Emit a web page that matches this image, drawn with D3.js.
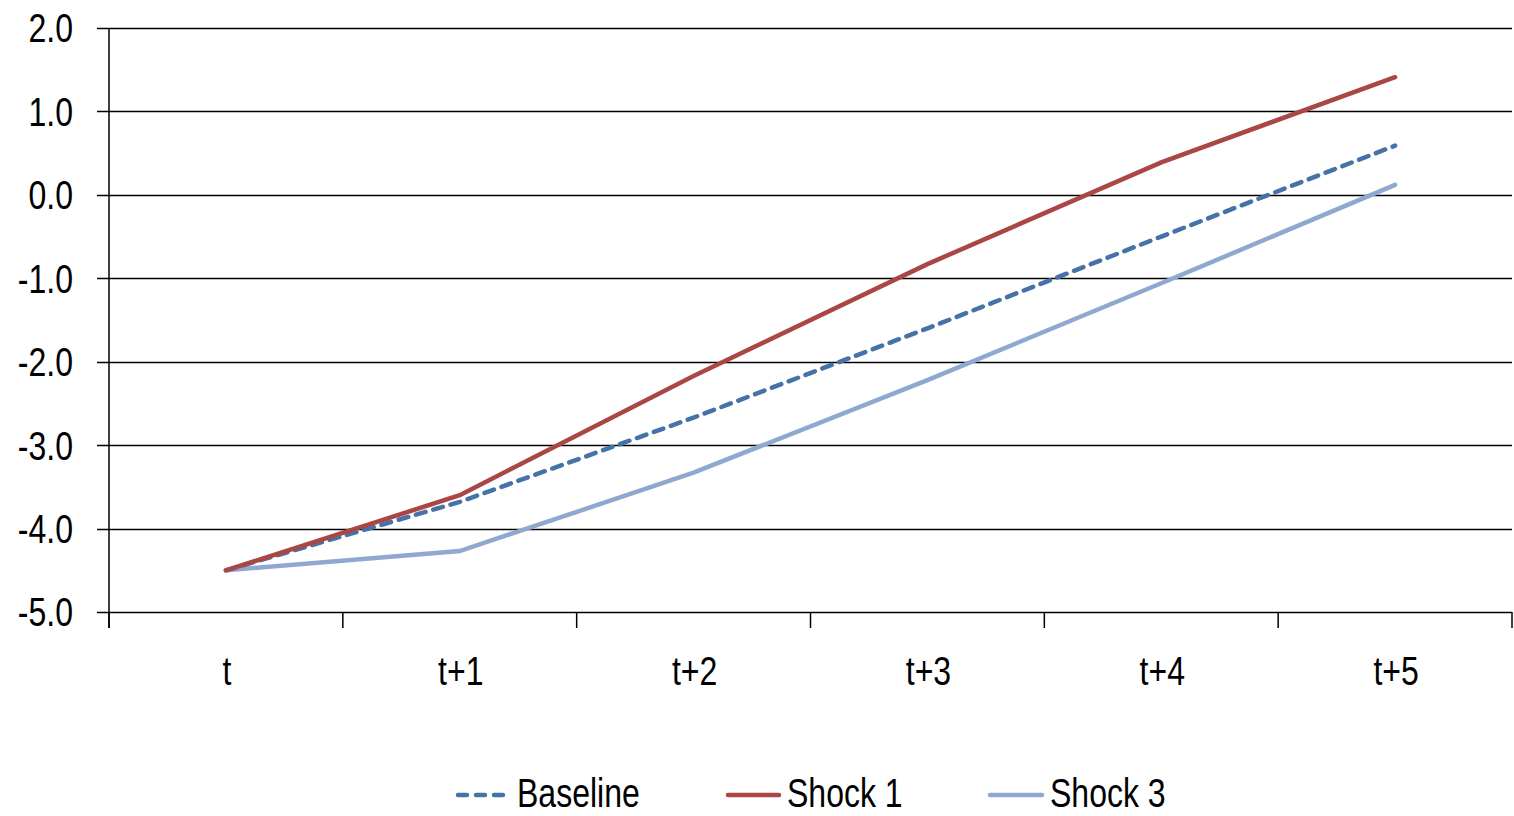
<!DOCTYPE html>
<meta charset="utf-8">
<script src="https://d3js.org/d3.v7.min.js"></script>
<style>
  body { margin: 0; background: #fff; }
  text { font-family: "Liberation Sans", Arial, sans-serif; }
</style>
<svg id="chart" width="1514" height="816"></svg>
<script>
// data
const periods = ["t", "t+1", "t+2", "t+3", "t+4", "t+5"];
const baseline = [-4.5, -3.68, -2.67, -1.6, -0.5, 0.59];
const shock1 = [-4.5, -3.6, -2.17, -0.83, 0.39, 1.41];
const shock3 = [-4.5, -4.27, -3.33, -2.22, -1.06, 0.12];
const yTicks = [2, 1, 0, -1, -2, -3, -4, -5];

const svg = d3.select("#chart");
const plotLeft = 109, plotRight = 1512, plotTop = 28, plotBottom = 612;
const squeeze = 0.8; // fake a narrow font

const x = d3.scaleBand().domain(periods).range([plotLeft, plotRight]);
const y = d3.scaleLinear().domain([-5, 2]).range([plotBottom, plotTop]);

// gridlines
svg.append("g")
  .selectAll("line")
  .data(yTicks)
  .join("line")
  .attr("x1", plotLeft - 12)
  .attr("x2", plotRight)
  .attr("y1", d => Math.round(y(d)) + 0.5)
  .attr("y2", d => Math.round(y(d)) + 0.5)
  .attr("stroke", "#000")
  .attr("stroke-width", 1.5);

// y axis line
svg.append("line")
  .attr("x1", plotLeft).attr("x2", plotLeft)
  .attr("y1", plotTop).attr("y2", plotBottom + 16)
  .attr("stroke", "#000").attr("stroke-width", 1.5);

// y labels
svg.append("g")
  .selectAll("text")
  .data(yTicks)
  .join("text")
  .attr("transform", d => `translate(73,${y(d)}) scale(${squeeze},1)`)
  .attr("dy", "0.36em")
  .attr("text-anchor", "end")
  .attr("font-size", 40)
  .text(d => d.toFixed(1));

// x ticks between categories
const xTickPos = periods.map(p => x(p)).concat([plotRight]);
svg.append("g")
  .selectAll("line")
  .data(xTickPos)
  .join("line")
  .attr("x1", d => d).attr("x2", d => d)
  .attr("y1", plotBottom).attr("y2", plotBottom + 16)
  .attr("stroke", "#000").attr("stroke-width", 1.5);

// x labels
svg.append("g")
  .selectAll("text")
  .data(periods)
  .join("text")
  .attr("transform", d => `translate(${x(d) + x.bandwidth() / 2 + 1},685) scale(${squeeze},1)`)
  .attr("text-anchor", "middle")
  .attr("font-size", 40)
  .text(d => d);

const series = [
  { name: "Baseline", values: baseline, color: "#4572a7", dash: "10,8" },
  { name: "Shock 1", values: shock1, color: "#aa4643", dash: null },
  { name: "Shock 3", values: shock3, color: "#8fa8d0", dash: null }
];

const line = d3.line()
  .x((d, i) => x(periods[i]) + x.bandwidth() / 2)
  .y(d => y(d));

// draw shock 3 first, then baseline, then shock 1
[series[2], series[0], series[1]].forEach(s => {
  svg.append("path")
    .datum(s.values)
    .attr("d", line)
    .attr("fill", "none")
    .attr("stroke", s.color)
    .attr("stroke-width", 4.5)
    .attr("stroke-linecap", "round")
    .attr("stroke-dasharray", s.dash);
});

// legend
const legendItems = [
  { s: series[0], x0: 458, x1: 508, tx: 517 },
  { s: series[1], x0: 728, x1: 779, tx: 787 },
  { s: series[2], x0: 990, x1: 1042, tx: 1050 }
];
const lg = svg.append("g");
legendItems.forEach(it => {
  lg.append("line")
    .attr("x1", it.x0).attr("x2", it.x1)
    .attr("y1", 795).attr("y2", 795)
    .attr("stroke", it.s.color)
    .attr("stroke-width", 4.5)
    .attr("stroke-linecap", "round")
    .attr("stroke-dasharray", it.s.dash ? "9,9" : null);
  lg.append("text")
    .attr("transform", `translate(${it.tx},807) scale(${squeeze},1)`)
    .attr("font-size", 40)
    .text(it.s.name);
});
</script>
